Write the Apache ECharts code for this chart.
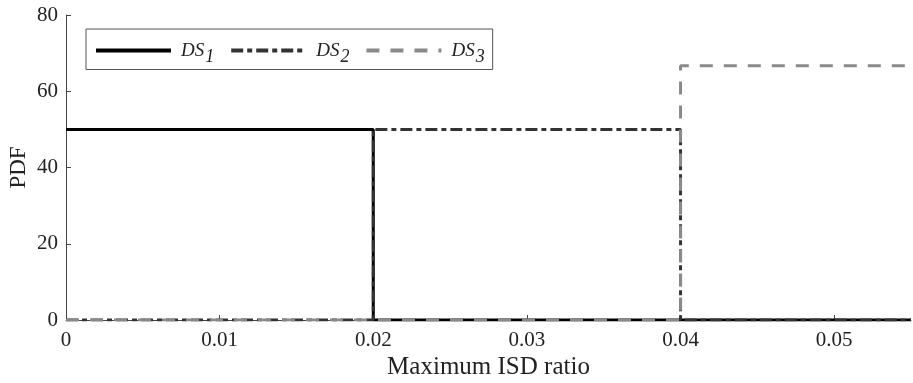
<!DOCTYPE html>
<html>
<head>
<meta charset="utf-8">
<script src="https://cdn.jsdelivr.net/npm/echarts@6/dist/echarts.min.js"></script>
<style>
  html, body { margin: 0; padding: 0; background: #fff; }
  #chart { width: 913px; height: 383px; }
</style>
</head>
<body>
<div id="chart"></div>
<script>
// Step-shaped PDFs of the maximum ISD ratio for three damage states
const ds1X = [0, 0.02, 0.02, 0.055];
const ds1Y = [50, 50, 0, 0];
const ds2X = [0, 0.02, 0.02, 0.04, 0.04, 0.055];
const ds2Y = [0, 0, 50, 50, 0, 0];
const ds3X = [0, 0.04, 0.04, 0.055];
const ds3Y = [0, 0, 66.67, 66.67];
const seriesNames = ['DS1', 'DS2', 'DS3'];
const xTickValues = [0, 0.01, 0.02, 0.03, 0.04, 0.05];
const yTickValues = [0, 20, 40, 60, 80];

const pair = (xs, ys) => xs.map((x, i) => [x, ys[i]]);
const FONT = '"Liberation Serif", "DejaVu Serif", serif';

const chart = echarts.init(document.getElementById('chart'));

const styles = [
  { color: '#000000', type: 'solid' },
  { color: '#333333', type: [12, 4, 5, 4] },
  { color: '#8a8a8a', type: [13, 11] }
];
const datasets = [pair(ds1X, ds1Y), pair(ds2X, ds2Y), pair(ds3X, ds3Y)];

chart.setOption({
  animation: false,
  backgroundColor: '#ffffff',
  grid: { left: 66, right: 2, top: 15, bottom: 63, containLabel: false, outerBoundsMode: 'none' },
  legend: {
    left: 86, top: 29,
    padding: [12, 8, 3, 8],
    itemGap: 15,
    itemWidth: 75,
    itemHeight: 14,
    borderColor: '#555555',
    borderWidth: 1,
    data: seriesNames.map((n, i) => ({
      name: n,
      itemStyle: { opacity: 0 },
      lineStyle: { color: styles[i].color, width: 4, type: styles[i].type, cap: 'butt', opacity: 1 }
    })),
    formatter: name => '{a|DS}{s|' + name.slice(2) + '}',
    textStyle: {
      fontFamily: FONT,
      rich: {
        a: { fontFamily: FONT, fontStyle: 'italic', fontSize: 19, color: '#222', padding: [0, 0, 0, 5] },
        s: { fontFamily: FONT, fontStyle: 'italic', fontSize: 18, color: '#222', padding: [14, 0, 0, 1] }
      }
    }
  },
  xAxis: {
    type: 'value',
    min: 0, max: 0.055, interval: 0.01,
    name: 'Maximum ISD ratio',
    nameLocation: 'middle',
    nameGap: 35,
    nameMoveOverlap: false,
    nameTextStyle: { fontFamily: FONT, fontSize: 25, color: '#222' },
    axisLine: { show: true, onZero: false, lineStyle: { color: '#444', width: 1 } },
    axisTick: { show: true, inside: true, length: 5, lineStyle: { color: '#444' } },
    splitLine: { show: false },
    axisLabel: {
      fontFamily: FONT, fontSize: 21, color: '#222', margin: 10,
      showMaxLabel: false,
      formatter: v => {
        const hit = xTickValues.find(t => Math.abs(t - v) < 1e-9);
        if (hit === undefined) return '';
        return hit === 0 ? '0' : hit.toFixed(2);
      }
    }
  },
  yAxis: {
    type: 'value',
    min: 0, max: 80, interval: 20,
    name: 'PDF',
    nameLocation: 'middle',
    nameGap: 36,
    nameMoveOverlap: false,
    nameTextStyle: { fontFamily: FONT, fontSize: 23, color: '#222' },
    axisLine: { show: true, lineStyle: { color: '#444', width: 1 } },
    axisTick: { show: true, inside: true, length: 5, lineStyle: { color: '#444' } },
    splitLine: { show: false },
    axisLabel: {
      fontFamily: FONT, fontSize: 21, color: '#222', margin: 8,
      formatter: v => yTickValues.includes(v) ? String(v) : ''
    }
  },
  series: datasets.map((d, i) => ({
    name: seriesNames[i],
    type: 'line',
    data: d,
    symbol: 'none',
    clip: true,
    color: styles[i].color,
    lineStyle: { color: styles[i].color, width: 3, type: styles[i].type, cap: 'butt' },
    z: 2 + i
  }))
});
</script>
</body>
</html>
